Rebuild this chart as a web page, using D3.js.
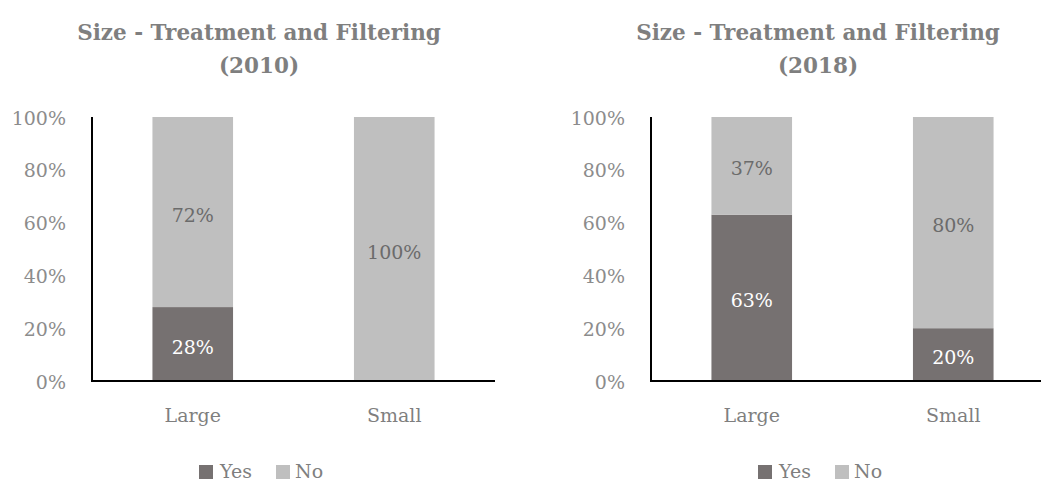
<!DOCTYPE html>
<meta charset="utf-8">
<script src="https://d3js.org/d3.v7.min.js"></script>
<style>
    body { margin: 0; background: #fff; }
    svg text { font-family: "DejaVu Serif", "Liberation Serif", serif; }
</style>
<div id="my_dataviz"></div>
<script>
    // chart data
    var categories = ["Large", "Small"];
    var years = ["2010", "2018"];
    var yes2010 = [28, 0];
    var no2010 = [72, 100];
    var yes2018 = [63, 20];
    var no2018 = [37, 80];
    var yTicks = [0, 20, 40, 60, 80, 100];
    var seriesNames = ["Yes", "No"];

    var colors = { Yes: "#767171", No: "#bfbfbf" };
    var labelColors = { Yes: "#ffffff", No: "#6b6b6b" };

    var svg = d3.select("#my_dataviz")
        .append("svg")
        .attr("width", 1041)
        .attr("height", 482);

    var panels = [
        { year: years[0], yes: yes2010, no: no2010, left: 92, titleX: 259 },
        { year: years[1], yes: yes2018, no: no2018, left: 651, titleX: 818 }
    ];

    panels.forEach(function (p) {
        var g = svg.append("g");
        var plotW = 403, top = 117, bottom = 381;

        // title
        var title = g.append("text")
            .attr("x", p.titleX)
            .attr("text-anchor", "middle")
            .attr("fill", "#7f7f7f")
            .attr("font-weight", "bold")
            .attr("font-size", "21.5px");
        title.append("tspan").attr("x", p.titleX).attr("y", 40).text("Size - Treatment and Filtering");
        title.append("tspan").attr("x", p.titleX).attr("y", 73).text("(" + p.year + ")");

        var x = d3.scaleBand()
            .domain(categories)
            .range([p.left, p.left + plotW])
            .paddingInner(0.6)
            .paddingOuter(0.3);

        var y = d3.scaleLinear()
            .domain([0, 100])
            .range([bottom, top]);

        // y tick labels
        g.selectAll(".ytick")
            .data(yTicks)
            .enter().append("text")
            .attr("x", p.left - 26)
            .attr("y", function (d) { return y(d) + 1; })
            .attr("dy", "0.35em")
            .attr("text-anchor", "end")
            .attr("fill", "#8c8c8c")
            .attr("font-size", "19px")
            .text(function (d) { return d + "%"; });

        // stacked data
        var rows = categories.map(function (c, i) {
            return { group: c, Yes: p.yes[i], No: p.no[i] };
        });
        var stacked = d3.stack().keys(seriesNames)(rows);

        var layers = g.append("g")
            .selectAll("g")
            .data(stacked)
            .enter().append("g")
            .attr("fill", function (d) { return colors[d.key]; });

        layers.selectAll("rect")
            .data(function (d) { return d; })
            .enter().append("rect")
            .attr("x", function (d) { return x(d.data.group); })
            .attr("y", function (d) { return y(d[1]); })
            .attr("height", function (d) { return y(d[0]) - y(d[1]); })
            .attr("width", x.bandwidth());

        // value labels
        stacked.forEach(function (layer) {
            g.selectAll(null)
                .data(layer.filter(function (d) { return d[1] - d[0] > 0; }))
                .enter().append("text")
                .attr("x", function (d) { return x(d.data.group) + x.bandwidth() / 2; })
                .attr("y", function (d) { return y((d[0] + d[1]) / 2) + 3; })
                .attr("dy", "0.35em")
                .attr("text-anchor", "middle")
                .attr("fill", labelColors[layer.key])
                .attr("font-size", "19px")
                .text(function (d) { return (d[1] - d[0]) + "%"; });
        });

        // axis lines
        g.append("line")
            .attr("x1", p.left).attr("x2", p.left)
            .attr("y1", top).attr("y2", bottom + 1)
            .attr("stroke", "#000").attr("stroke-width", 2);
        g.append("line")
            .attr("x1", p.left - 1).attr("x2", p.left + plotW)
            .attr("y1", bottom).attr("y2", bottom)
            .attr("stroke", "#000").attr("stroke-width", 2);

        // category labels
        g.selectAll(".xlab")
            .data(categories)
            .enter().append("text")
            .attr("x", function (d) { return x(d) + x.bandwidth() / 2; })
            .attr("y", 415)
            .attr("dy", "0.35em")
            .attr("text-anchor", "middle")
            .attr("fill", "#7f7f7f")
            .attr("font-size", "19px")
            .text(function (d) { return d; });

        // legend
        var leg = g.append("g");
        var sq = [p.left + 107, p.left + 184];
        var tx = [p.left + 128, p.left + 203];
        seriesNames.forEach(function (s, i) {
            leg.append("rect")
                .attr("x", sq[i]).attr("y", 465)
                .attr("width", 14).attr("height", 14)
                .attr("fill", colors[s]);
            leg.append("text")
                .attr("x", tx[i]).attr("y", 471)
                .attr("dy", "0.35em")
                .attr("fill", "#7f7f7f")
                .attr("font-size", "19px")
                .text(s);
        });
    });
</script>
